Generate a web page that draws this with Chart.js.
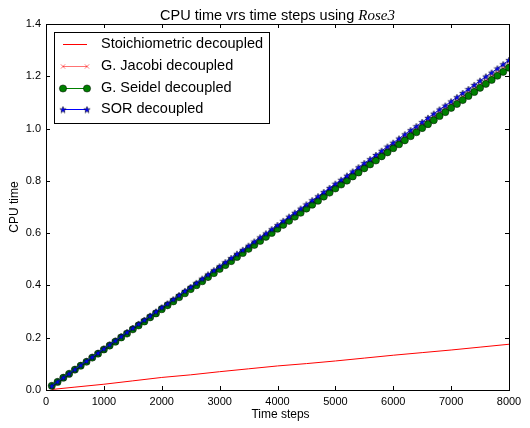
<!DOCTYPE html>
<html>
<head>
<meta charset="utf-8">
<script src="https://cdn.jsdelivr.net/npm/chart.js@4.4.1/dist/chart.umd.min.js"></script>
<style>
  html, body { margin: 0; padding: 0; background: #fff; }
  canvas { display: block; }
</style>
</head>
<body>
<canvas id="cpu" width="530" height="428"></canvas>
<script>
// Time steps at which CPU time was recorded
const timeSteps = [
  100, 200, 300, 400, 500, 600, 700, 800, 900, 1000,
  1100, 1200, 1300, 1400, 1500, 1600, 1700, 1800, 1900, 2000,
  2100, 2200, 2300, 2400, 2500, 2600, 2700, 2800, 2900, 3000,
  3100, 3200, 3300, 3400, 3500, 3600, 3700, 3800, 3900, 4000,
  4100, 4200, 4300, 4400, 4500, 4600, 4700, 4800, 4900, 5000,
  5100, 5200, 5300, 5400, 5500, 5600, 5700, 5800, 5900, 6000,
  6100, 6200, 6300, 6400, 6500, 6600, 6700, 6800, 6900, 7000,
  7100, 7200, 7300, 7400, 7500, 7600, 7700, 7800, 7900, 8000
];

// Stoichiometric decoupled (sampled more coarsely)
const stoichSteps = [100, 500, 1000, 1500, 2000, 2500, 3000, 3500, 4000, 4500,
                     5000, 5500, 6000, 6500, 7000, 7500, 8000];
const stoichTime = [0.002, 0.011, 0.022, 0.035, 0.048, 0.058, 0.070, 0.081, 0.092, 0.101,
                    0.111, 0.122, 0.133, 0.143, 0.153, 0.164, 0.175];

const jacobiTime = [
  0.016, 0.032, 0.047, 0.063, 0.078, 0.094, 0.109, 0.125, 0.140, 0.156,
  0.172, 0.187, 0.203, 0.218, 0.234, 0.249, 0.265, 0.281, 0.296, 0.312,
  0.327, 0.343, 0.358, 0.374, 0.389, 0.405, 0.421, 0.436, 0.452, 0.467,
  0.483, 0.498, 0.514, 0.529, 0.545, 0.561, 0.576, 0.592, 0.607, 0.623,
  0.638, 0.654, 0.670, 0.685, 0.701, 0.716, 0.732, 0.747, 0.763, 0.778,
  0.794, 0.810, 0.825, 0.841, 0.856, 0.872, 0.887, 0.903, 0.918, 0.934,
  0.950, 0.965, 0.981, 0.996, 1.012, 1.027, 1.043, 1.059, 1.074, 1.090,
  1.105, 1.121, 1.136, 1.152, 1.167, 1.183, 1.199, 1.214, 1.230, 1.245
];

const seidelTime = [
  0.016, 0.031, 0.047, 0.062, 0.078, 0.093, 0.108, 0.124, 0.139, 0.155,
  0.170, 0.185, 0.201, 0.216, 0.232, 0.247, 0.262, 0.278, 0.293, 0.309,
  0.324, 0.339, 0.355, 0.370, 0.386, 0.401, 0.416, 0.432, 0.447, 0.463,
  0.478, 0.493, 0.509, 0.524, 0.540, 0.555, 0.570, 0.586, 0.601, 0.617,
  0.632, 0.647, 0.663, 0.678, 0.694, 0.709, 0.724, 0.740, 0.755, 0.771,
  0.786, 0.801, 0.817, 0.832, 0.848, 0.863, 0.878, 0.894, 0.909, 0.925,
  0.940, 0.955, 0.971, 0.986, 1.002, 1.017, 1.032, 1.048, 1.063, 1.079,
  1.094, 1.109, 1.125, 1.140, 1.156, 1.171, 1.186, 1.202, 1.217, 1.233
];

const sorTime = [
  0.016, 0.032, 0.048, 0.063, 0.079, 0.095, 0.111, 0.126, 0.142, 0.158,
  0.174, 0.189, 0.205, 0.221, 0.237, 0.253, 0.268, 0.284, 0.300, 0.316,
  0.331, 0.347, 0.363, 0.379, 0.394, 0.410, 0.426, 0.442, 0.458, 0.473,
  0.489, 0.505, 0.521, 0.536, 0.552, 0.568, 0.584, 0.599, 0.615, 0.631,
  0.647, 0.663, 0.678, 0.694, 0.710, 0.726, 0.741, 0.757, 0.773, 0.789,
  0.804, 0.820, 0.836, 0.852, 0.868, 0.883, 0.899, 0.915, 0.931, 0.946,
  0.962, 0.978, 0.994, 1.009, 1.025, 1.041, 1.057, 1.073, 1.088, 1.104,
  1.120, 1.136, 1.151, 1.167, 1.183, 1.199, 1.214, 1.230, 1.246, 1.262
];

const xTicks = [0, 1000, 2000, 3000, 4000, 5000, 6000, 7000, 8000];
const yTicks = [0.0, 0.2, 0.4, 0.6, 0.8, 1.0, 1.2, 1.4];

const FONT = '"Liberation Sans", Arial, Helvetica, sans-serif';

// Filled five-point star marker with a thin dark edge
function makeStar(size, fill) {
  const c = document.createElement('canvas');
  c.width = size; c.height = size;
  const g = c.getContext('2d');
  const cx = size / 2, cy = size / 2 + 0.4, R = size / 2 - 0.6, r = R * 0.42;
  g.beginPath();
  for (let i = 0; i < 10; i++) {
    const a = -Math.PI / 2 + i * Math.PI / 5;
    const rad = i % 2 === 0 ? R : r;
    const px = cx + rad * Math.cos(a), py = cy + rad * Math.sin(a);
    if (i === 0) g.moveTo(px, py); else g.lineTo(px, py);
  }
  g.closePath();
  g.fillStyle = fill;
  g.fill();
  g.lineWidth = 0.5;
  g.strokeStyle = '#000';
  g.stroke();
  return c;
}
const starMarker = makeStar(8, '#0000ff');

const pairs = (xs, ys) => xs.map((x, i) => ({ x: x, y: ys[i] }));

const datasets = [
  {
    label: 'Stoichiometric decoupled',
    data: pairs(stoichSteps, stoichTime),
    borderColor: '#ff0000',
    borderWidth: 1,
    pointRadius: 0,
    order: 3
  },
  {
    label: 'G. Jacobi decoupled',
    data: pairs(timeSteps, jacobiTime),
    borderColor: 'rgba(255,0,0,0.55)',
    borderWidth: 1,
    pointStyle: 'crossRot',
    pointRadius: 3,
    pointBorderColor: 'rgba(255,0,0,0.55)',
    pointBorderWidth: 1,
    order: 2
  },
  {
    label: 'G. Seidel decoupled',
    data: pairs(timeSteps, seidelTime),
    borderColor: '#008000',
    borderWidth: 1,
    pointStyle: 'circle',
    pointRadius: 3.6,
    pointBackgroundColor: '#008000',
    pointBorderColor: '#000',
    pointBorderWidth: 0.5,
    order: 1
  },
  {
    label: 'SOR decoupled',
    data: pairs(timeSteps, sorTime),
    borderColor: '#0000ff',
    borderWidth: 1,
    pointStyle: starMarker,
    pointRadius: 4,
    order: 0
  }
];

// Axes frame with inward ticks on all four sides, plus axis titles
const framePlugin = {
  id: 'frame',
  afterDraw(chart) {
    const { ctx, chartArea: a, scales } = chart;
    ctx.save();
    ctx.strokeStyle = '#000';
    ctx.lineWidth = 1;
    const L = 4;
    ctx.beginPath();
    xTicks.forEach(v => {
      const px = Math.round(scales.x.getPixelForValue(v)) + 0.5;
      ctx.moveTo(px, a.bottom); ctx.lineTo(px, a.bottom - L);
      ctx.moveTo(px, a.top); ctx.lineTo(px, a.top + L);
    });
    yTicks.forEach(v => {
      const py = Math.round(scales.y.getPixelForValue(v)) + 0.5;
      ctx.moveTo(a.left, py); ctx.lineTo(a.left + L, py);
      ctx.moveTo(a.right, py); ctx.lineTo(a.right - L, py);
    });
    ctx.stroke();
    ctx.strokeRect(Math.round(a.left) + 0.5, Math.round(a.top) + 0.5,
                   Math.round(a.right - a.left), Math.round(a.bottom - a.top));

    // axis titles
    ctx.fillStyle = '#000';
    ctx.font = '12px ' + FONT;
    ctx.textAlign = 'center';
    ctx.textBaseline = 'alphabetic';
    ctx.fillText('Time steps', (a.left + a.right) / 2 + 3, 418);
    ctx.save();
    ctx.translate(18, (a.top + a.bottom) / 2);
    ctx.rotate(-Math.PI / 2);
    ctx.fillText('CPU time', 0, 0);
    ctx.restore();

    // title with italic math-style name
    const t1 = 'CPU time vrs time steps using ';
    const t2 = 'Rose3';
    ctx.font = '14.5px ' + FONT;
    const w1 = ctx.measureText(t1).width;
    ctx.font = 'italic 15px "Liberation Serif", "DejaVu Serif", serif';
    const w2 = ctx.measureText(t2).width;
    const x0 = (a.left + a.right) / 2 - (w1 + w2) / 2;
    ctx.textAlign = 'left';
    ctx.font = '14.5px ' + FONT;
    ctx.fillText(t1, x0, 20);
    ctx.font = 'italic 15px "Liberation Serif", "DejaVu Serif", serif';
    ctx.fillText(t2, x0 + w1, 20);
    ctx.restore();
  }
};

// Boxed legend in the upper-left corner of the plot area
const legendPlugin = {
  id: 'boxLegend',
  afterDraw(chart) {
    const { ctx, chartArea: a } = chart;
    const bx = a.left + 8, by = a.top + 8, bw = 215, bh = 91;
    ctx.save();
    ctx.fillStyle = '#fff';
    ctx.fillRect(bx, by, bw, bh);
    ctx.strokeStyle = '#000';
    ctx.lineWidth = 1;
    ctx.strokeRect(Math.round(bx) + 0.5, Math.round(by) + 0.5, bw, bh);
    ctx.font = '14.5px ' + FONT;
    ctx.textBaseline = 'middle';
    ctx.textAlign = 'left';
    const rows = [44, 66, 88, 109];
    datasets.forEach((ds, i) => {
      const y = rows[i];
      const x1 = 63, x2 = 87;
      ctx.strokeStyle = ds.borderColor;
      ctx.lineWidth = ds.borderWidth;
      ctx.beginPath();
      ctx.moveTo(x1, y + 0.5); ctx.lineTo(x2, y + 0.5);
      ctx.stroke();
      if (ds.pointRadius) {
        [x1, x2].forEach(px => {
          ctx.fillStyle = ds.pointBackgroundColor || ds.borderColor;
          ctx.strokeStyle = ds.pointBorderColor || ds.borderColor;
          ctx.lineWidth = ds.pointBorderWidth || 1;
          Chart.helpers.drawPoint(ctx, {
            pointStyle: ds.pointStyle, radius: ds.pointRadius,
            rotation: 0, borderWidth: ds.pointBorderWidth || 1
          }, px, y + 0.5);
        });
      }
      ctx.fillStyle = '#000';
      ctx.fillText(ds.label, 101, y);
    });
    ctx.restore();
  }
};

new Chart(document.getElementById('cpu'), {
  type: 'line',
  data: { datasets: datasets },
  plugins: [framePlugin, legendPlugin],
  options: {
    responsive: false,
    animation: false,
    devicePixelRatio: 1,
    layout: { padding: { top: 24, right: 21, left: 0, bottom: 0 } },
    elements: { line: { tension: 0, fill: false } },
    datasets: { line: { clip: 0 } },
    plugins: {
      legend: { display: false },
      title: { display: false },
      tooltip: { enabled: false }
    },
    scales: {
      x: {
        type: 'linear',
        min: 0, max: 8000,
        afterBuildTicks: s => { s.ticks = xTicks.map(v => ({ value: v })); },
        afterFit: s => { s.height = 38; },
        grid: { display: false, drawTicks: false },
        border: { display: false },
        ticks: {
          padding: 5, color: '#000', maxRotation: 0,
          font: { family: FONT, size: 11 },
          callback: v => String(v)
        }
      },
      y: {
        type: 'linear',
        min: 0, max: 1.4,
        afterBuildTicks: s => { s.ticks = yTicks.map(v => ({ value: v })); },
        afterFit: s => { s.width = 46; },
        grid: { display: false, drawTicks: false },
        border: { display: false },
        ticks: {
          padding: 5, color: '#000',
          font: { family: FONT, size: 11 },
          callback: v => Number(v).toFixed(1)
        }
      }
    }
  }
});
</script>
</body>
</html>
